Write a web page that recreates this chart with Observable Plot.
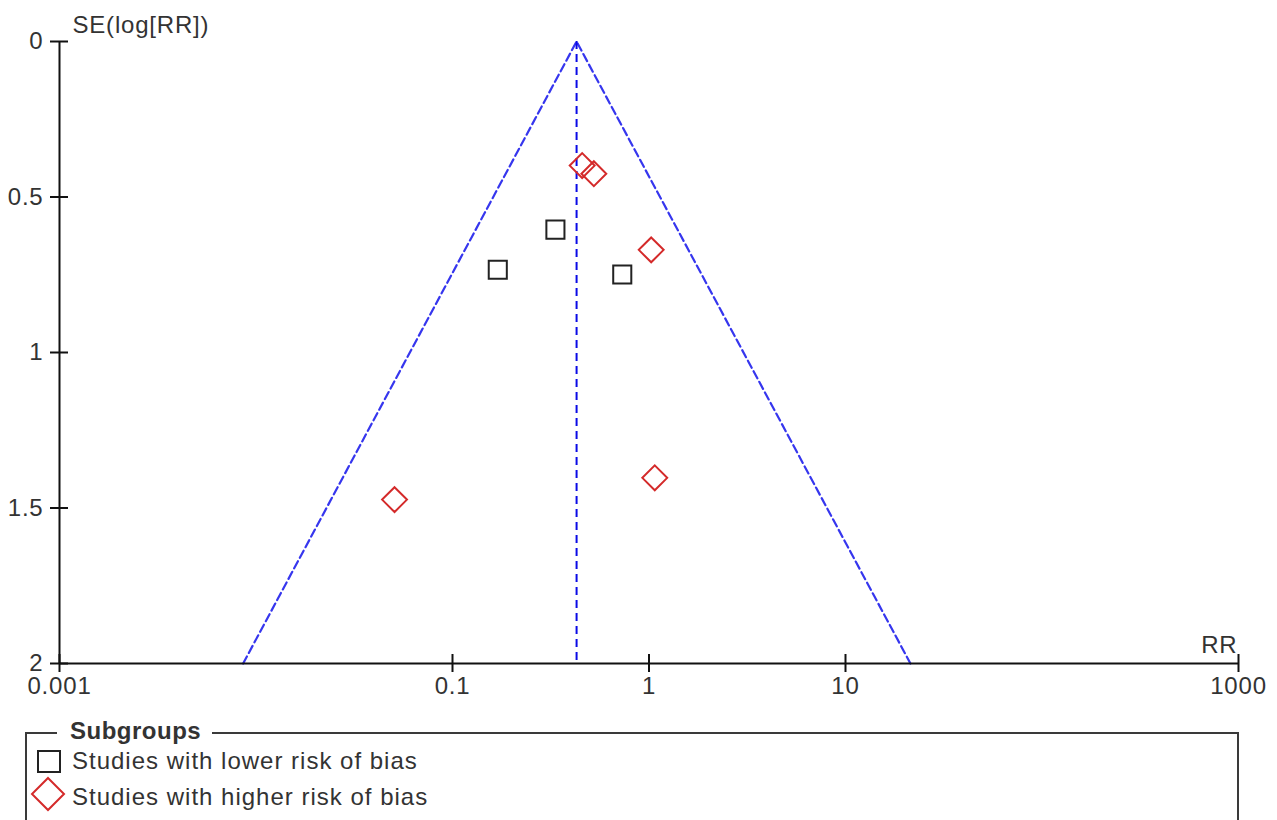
<!DOCTYPE html>
<html>
<head>
<meta charset="utf-8">
<script src="https://cdn.jsdelivr.net/npm/d3@7"></script>
<script src="https://cdn.jsdelivr.net/npm/@observablehq/plot@0.6"></script>
<style>
  html, body { margin: 0; padding: 0; background: #fff; }
  #wrap { position: relative; width: 1277px; height: 820px; overflow: hidden; font-family: "Liberation Sans", Arial, sans-serif; color: #333; }
  #legendBox { position: absolute; left: 25px; top: 732px; width: 1210px; height: 200px; border: 2px solid #3a3a3a; border-bottom: none; }
  #legendTitle { position: absolute; left: 57px; top: 717px; padding: 0 11px 0 13px; background: #fff; font-weight: bold; font-size: 24px; letter-spacing: 0.5px; line-height: 28px; }
  .item { position: absolute; left: 72px; font-size: 24px; letter-spacing: 1px; line-height: 28px; white-space: nowrap; }
  .icon { position: absolute; }
  #chart svg text { letter-spacing: 0.8px; }
</style>
</head>
<body>
<div id="wrap">
  <div id="chart"></div>
  <div id="legendBox"></div>
  <div id="legendTitle"></div>
</div>
<script>
// ---- data ----
const lowerRR = [0.334, 0.170, 0.731];
const lowerSE = [0.605, 0.734, 0.749];
const higherRR = [0.457, 0.524, 1.026, 0.0507, 1.07];
const higherSE = [0.399, 0.425, 0.670, 1.473, 1.403];
const pooledRR = 0.428;
const funnelRR = [0.0086, 0.428, 21.4];
const funnelSE = [2, 0, 2];
const xTicks = [0.001, 0.1, 1, 10, 1000];
const xTickLabels = ["0.001", "0.1", "1", "10", "1000"];
const yTicks = [0, 0.5, 1, 1.5, 2];
const yTickLabels = ["0", "0.5", "1", "1.5", "2"];
const groupNames = ["Studies with lower risk of bias", "Studies with higher risk of bias"];
const legendTitle = "Subgroups";
const xLabel = "RR";
const yLabel = "SE(log[RR])";

const lower = lowerRR.map((rr, i) => ({rr, se: lowerSE[i]}));
const higher = higherRR.map((rr, i) => ({rr, se: higherSE[i]}));
const funnel = funnelRR.map((rr, i) => ({rr, se: funnelSE[i]}));
const xMin = xTicks[0], xMax = xTicks[xTicks.length - 1];
const yMin = yTicks[0], yMax = yTicks[yTicks.length - 1];

const chart = Plot.plot({
  width: 1277,
  height: 700,
  marginLeft: 59,
  marginRight: 39,
  marginTop: 41,
  marginBottom: 37,
  style: {fontFamily: "Liberation Sans, Arial, sans-serif", fontSize: "24px", color: "#333", background: "#fff", overflow: "visible"},
  x: {type: "log", domain: [xMin, xMax], axis: null},
  y: {domain: [yMin, yMax], reverse: true, axis: null},
  marks: [
    Plot.line(funnel, {x: "rr", y: "se", stroke: "#3636ee", strokeWidth: 2.2, strokeDasharray: "8,4"}),
    Plot.ruleX([pooledRR], {y1: yMin, y2: yMax, stroke: "#0a0ae6", strokeWidth: 2, strokeDasharray: "8,5"}),
    Plot.ruleY([yMax], {x1: xMin, x2: xMax, stroke: "#111", strokeWidth: 2}),
    Plot.ruleX([xMin], {y1: yMin, y2: yMax, stroke: "#111", strokeWidth: 2}),
    // crossing tick marks
    Plot.ruleX(xTicks, {x: (d) => d, y1: yMax, y2: yMax, insetTop: -9, insetBottom: -9, stroke: "#111", strokeWidth: 2}),
    Plot.ruleY(yTicks, {y: (d) => d, x1: xMin, x2: xMin, insetLeft: -9, insetRight: -9, stroke: "#111", strokeWidth: 2}),
    // tick labels
    Plot.text(xTicks, {x: (d) => d, y: yMax, text: (d) => xTickLabels[xTicks.indexOf(d)], dy: 13, lineAnchor: "top", textAnchor: "middle", fill: "#333"}),
    Plot.text(yTicks, {x: xMin, y: (d) => d, text: (d) => yTickLabels[yTicks.indexOf(d)], dx: -16, lineAnchor: "middle", textAnchor: "end", fill: "#333"}),
    Plot.text([yLabel], {frameAnchor: "top-left", dx: 13, dy: -16, textAnchor: "start", lineAnchor: "middle", fill: "#333"}),
    Plot.text([xLabel], {frameAnchor: "bottom-right", dx: -1, dy: -18, textAnchor: "end", lineAnchor: "middle", fill: "#333"}),
    Plot.dot(lower, {x: "rr", y: "se", symbol: "square", r: 10.2, fill: "none", stroke: "#222", strokeWidth: 2}),
    Plot.dot(higher, {x: "rr", y: "se", symbol: "diamond2", r: 11.2, fill: "none", stroke: "#d42a2a", strokeWidth: 2})
  ]
});
document.getElementById("chart").appendChild(chart);

document.getElementById("legendTitle").textContent = legendTitle;
const wrap = document.getElementById("wrap");
const itemTops = [747, 783];
groupNames.forEach((name, i) => {
  const t = document.createElement("div");
  t.className = "item";
  t.style.top = itemTops[i] + "px";
  t.textContent = name;
  wrap.appendChild(t);
});
const ns = "http://www.w3.org/2000/svg";
function icon(left, top, w, h, inner) {
  const s = document.createElementNS(ns, "svg");
  s.setAttribute("width", w); s.setAttribute("height", h);
  s.setAttribute("class", "icon");
  s.style.left = left + "px"; s.style.top = top + "px";
  s.innerHTML = inner;
  wrap.appendChild(s);
}
icon(36, 749, 26, 25, '<rect x="2" y="2" width="22" height="21" fill="none" stroke="#222" stroke-width="2"/>');
icon(30, 776, 36, 36, '<path d="M18,2 L34,18 L18,34 L2,18 Z" fill="none" stroke="#d42a2a" stroke-width="2"/>');
</script>
</body>
</html>
